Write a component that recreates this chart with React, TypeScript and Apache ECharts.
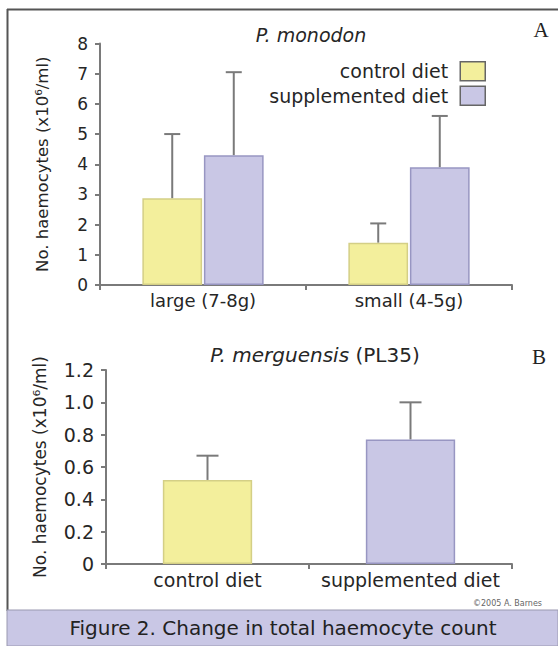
import React, { useEffect, useRef } from "react";
import * as echarts from "echarts";

const topCategories = ["large (7-8g)", "small (4-5g)"];
const topControl = [2.87, 1.4];
const topControlErr = [5.0, 2.04];
const topSupp = [4.3, 3.9];
const topSuppErr = [7.05, 5.6];
const topTicks = [0, 1, 2, 3, 4, 5, 6, 7, 8];

const botCategories = ["control diet", "supplemented diet"];
const botValues = [0.52, 0.77];
const botErr = [0.67, 1.0];

const FONT = "DejaVu Sans";
const YELLOW = "#f3ef9c";
const YELLOW_B = "#d4cf86";
const LAV = "#c9c7e5";
const LAV_B = "#9896c2";
const AXIS = "#7a7a7a";
const TXT = "#262626";

export default function App() {
  const ref = useRef<HTMLDivElement>(null);
  useEffect(() => {
    const chart = echarts.init(ref.current!, null, { renderer: "svg" });

    const errRender = (capW: number, barFrac: number, groupOffsetSign: number | null) =>
      (params: any, api: any) => {
        const cat = api.value(0);
        const mean = api.value(1);
        const up = api.value(2);
        const bandW = api.size([1, 0])[0];
        let off = 0;
        if (groupOffsetSign !== null) {
          const bw = bandW * barFrac;
          off = groupOffsetSign * (bw + bw * 0.03) / 2;
        }
        const p0 = api.coord([cat, mean]);
        const p1 = api.coord([cat, up]);
        const x = p0[0] + off;
        const st = { stroke: AXIS, lineWidth: 2 };
        return {
          type: "group",
          children: [
            { type: "line", shape: { x1: x, y1: p0[1], x2: x, y2: p1[1] }, style: st },
            { type: "line", shape: { x1: x - capW / 2, y1: p1[1], x2: x + capW / 2, y2: p1[1] }, style: st },
          ],
        };
      };

    const yAxisName = "No. haemocytes (x10⁶/ml)";

    const option: any = {
      animation: false,
      backgroundColor: "#ffffff",
      title: [
        {
          text: "P. monodon",
          left: 306,
          top: 20,
          textAlign: "center",
          textStyle: { fontFamily: FONT, fontSize: 19, fontStyle: "italic", fontWeight: "normal", color: TXT },
        },
        {
          text: "{i|P. merguensis} (PL35)",
          left: 310,
          top: 340,
          textAlign: "center",
          textStyle: {
            fontFamily: FONT, fontSize: 20, fontWeight: "normal", color: TXT,
            rich: { i: { fontFamily: FONT, fontSize: 20, fontStyle: "italic", color: TXT } },
          },
        },
      ],
      legend: {
        data: ["control diet", "supplemented diet"],
        orient: "vertical",
        align: "right",
        right: 67,
        top: 56,
        icon: "rect",
        itemWidth: 25,
        itemHeight: 19,
        itemGap: 4,
        textStyle: { fontFamily: FONT, fontSize: 19, color: TXT, padding: [0, 7, 0, 0] },
        itemStyle: { borderColor: "#666", borderWidth: 1.5 },
      },
      grid: [
        { left: 100, right: 46, top: 43.5, bottom: 361, containLabel: false },
        { left: 106, right: 46, top: 370, bottom: 82, containLabel: false },
      ],
      xAxis: [
        {
          type: "category",
          gridIndex: 0,
          data: topCategories,
          axisLine: { lineStyle: { color: AXIS, width: 2 } },
          axisTick: { show: true, length: 5, lineStyle: { color: AXIS, width: 2 } },
          axisLabel: { fontFamily: FONT, fontSize: 18, color: TXT, margin: 6, interval: 0 },
        },
        {
          type: "category",
          gridIndex: 1,
          data: botCategories,
          axisLine: { lineStyle: { color: AXIS, width: 2 } },
          axisTick: { show: true, length: 5, lineStyle: { color: AXIS, width: 2 } },
          axisLabel: { fontFamily: FONT, fontSize: 19, color: TXT, margin: 6, interval: 0, hideOverlap: false },
        },
      ],
      yAxis: [
        {
          type: "value",
          gridIndex: 0,
          min: topTicks[0],
          max: topTicks[topTicks.length - 1],
          interval: 1,
          name: yAxisName,
          nameLocation: "middle",
          nameGap: 49,
          nameTextStyle: { fontFamily: FONT, fontSize: 16.5, color: TXT },
          axisLine: { show: true, lineStyle: { color: AXIS, width: 2 } },
          axisTick: { show: true, length: 5, lineStyle: { color: AXIS, width: 2 } },
          axisLabel: { fontFamily: FONT, fontSize: 17, color: TXT, margin: 12 },
          splitLine: { show: false },
        },
        {
          type: "value",
          gridIndex: 1,
          min: 0,
          max: 1.2,
          interval: 0.2,
          name: yAxisName,
          nameLocation: "middle",
          nameGap: 58,
          nameTextStyle: { fontFamily: FONT, fontSize: 17, color: TXT },
          axisLine: { show: true, lineStyle: { color: AXIS, width: 2 } },
          axisTick: { show: true, length: 5, lineStyle: { color: AXIS, width: 2 } },
          axisLabel: {
            fontFamily: FONT, fontSize: 19, color: TXT, margin: 12,
            formatter: (v: number) => (v === 0 ? "0" : v.toFixed(1)),
          },
          splitLine: { show: false },
        },
      ],
      series: [
        {
          name: "control diet",
          type: "bar",
          xAxisIndex: 0,
          yAxisIndex: 0,
          data: topControl,
          barWidth: "29%",
          barGap: "3%",
          itemStyle: { color: YELLOW, borderColor: YELLOW_B, borderWidth: 1.5 },
        },
        {
          name: "supplemented diet",
          type: "bar",
          xAxisIndex: 0,
          yAxisIndex: 0,
          data: topSupp,
          barWidth: "29%",
          barGap: "3%",
          itemStyle: { color: LAV, borderColor: LAV_B, borderWidth: 1.5 },
        },
        {
          name: "control err",
          type: "custom",
          xAxisIndex: 0,
          yAxisIndex: 0,
          renderItem: errRender(16, 0.29, -1),
          encode: { x: 0, y: [1, 2] },
          data: topControl.map((v, i) => [i, v, topControlErr[i]]),
          z: 1,
        },
        {
          name: "supp err",
          type: "custom",
          xAxisIndex: 0,
          yAxisIndex: 0,
          renderItem: errRender(16, 0.29, 1),
          encode: { x: 0, y: [1, 2] },
          data: topSupp.map((v, i) => [i, v, topSuppErr[i]]),
          z: 1,
        },
        {
          name: "PL35",
          type: "bar",
          xAxisIndex: 1,
          yAxisIndex: 1,
          barWidth: "44%",
          data: botValues.map((v, i) => ({
            value: v,
            itemStyle: i === 0
              ? { color: YELLOW, borderColor: YELLOW_B, borderWidth: 1.5 }
              : { color: LAV, borderColor: LAV_B, borderWidth: 1.5 },
          })),
        },
        {
          name: "PL35 err",
          type: "custom",
          xAxisIndex: 1,
          yAxisIndex: 1,
          renderItem: errRender(22, 0.44, null),
          encode: { x: 0, y: [1, 2] },
          data: botValues.map((v, i) => [i, v, botErr[i]]),
          z: 1,
        },
      ],
      graphic: [
        { type: "line", shape: { x1: 7, y1: 9.5, x2: 558, y2: 9.5 }, style: { stroke: "#555", lineWidth: 2 } },
        { type: "line", shape: { x1: 7.5, y1: 9, x2: 7.5, y2: 611 }, style: { stroke: "#555", lineWidth: 2 } },
        { type: "rect", shape: { x: 7, y: 610, width: 551, height: 36 }, style: { fill: "#c9c7e5", stroke: "#9a99b0", lineWidth: 1 } },
        {
          type: "text", x: 283, y: 628,
          style: { text: "Figure 2. Change in total haemocyte count", fontFamily: FONT, fontSize: 20, fill: "#222", align: "center", verticalAlign: "middle" },
        },
        {
          type: "text", x: 541, y: 30,
          style: { text: "A", fontFamily: "Liberation Serif", fontSize: 21, fill: "#222", align: "center", verticalAlign: "middle" },
        },
        {
          type: "text", x: 539, y: 357,
          style: { text: "B", fontFamily: "Liberation Serif", fontSize: 21, fill: "#222", align: "center", verticalAlign: "middle" },
        },
        {
          type: "text", x: 473, y: 603,
          style: { text: "©2005 A. Barnes", fontFamily: FONT, fontSize: 8, fill: "#666", align: "left", verticalAlign: "middle" },
        },
      ],
    };
    chart.setOption(option);
    return () => chart.dispose();
  }, []);
  return <div ref={ref} style={{ position: "fixed", left: 0, top: 0, width: 558, height: 646 }} />;
}
